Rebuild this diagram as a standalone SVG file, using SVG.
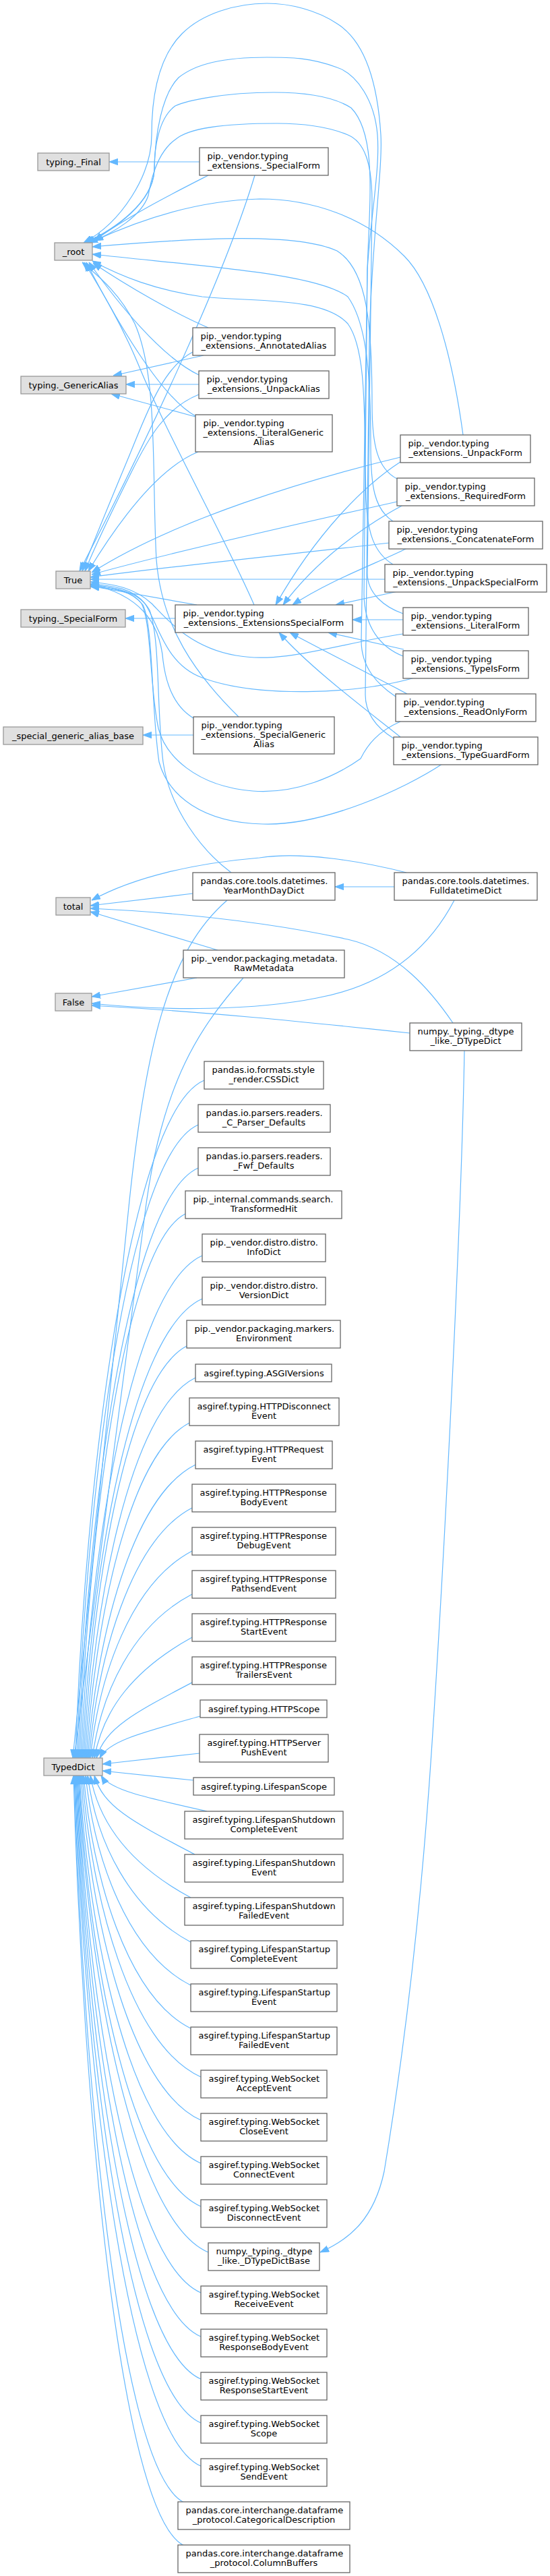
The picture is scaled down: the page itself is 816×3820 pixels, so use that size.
<svg xmlns="http://www.w3.org/2000/svg" width="816" height="3820" viewBox="0 0 816 3820">
<defs>
<marker id="a" viewBox="0 0 13 10" refX="13" refY="5" markerWidth="13" markerHeight="10" orient="auto" markerUnits="userSpaceOnUse"><path d="M0,0.3 L13,5 L0,9.7 z" fill="#63b8ff" stroke="#63b8ff" stroke-width="1"/></marker>
</defs>
<style>
.g rect{fill:#e0e0e0;stroke:#999999;stroke-width:1.3}
.w rect{fill:#ffffff;stroke:#666666;stroke-width:1.3}
text{font-family:"DejaVu Sans","Liberation Sans",sans-serif;font-size:13px;fill:#000000}
.m{text-anchor:middle}
#edges path{fill:none;stroke:#63b8ff;stroke-width:1.2;marker-end:url(#a)}
</style>
<rect width="816" height="3820" fill="#ffffff"/>
<g id="edges">
<path d="M296,240 L162,240"/>
<path d="M309,260 C260,285 190,320 140,357"/>
<path d="M309,486 C260,465 190,425 138,390"/>
<path d="M295,556 C240,530 175,450 132,389"/>
<path d="M290,617 C240,590 175,480 128,389"/>
<path d="M377,897 C335,800 250,650 205,540 C180,480 150,430 125,389"/>
<path d="M354,1063 C290,1000 240,930 232,830 C225,700 235,560 200,480 C175,430 140,405 122,389"/>
<path d="M687,645 C670,520 640,420 600,380 C540,320 460,295 385,295 C300,297 220,320 140,357"/>
<path d="M589,710 C560,695 552,660 552,600 C552,480 545,400 500,372 C440,345 300,352 137,366"/>
<path d="M583,773 C555,755 550,720 550,660 C550,560 545,480 516,440 C470,405 300,395 137,377"/>
<path d="M583,837 C555,820 545,790 543,740 C540,620 545,520 516,480 C480,440 380,448 300,440 C230,430 180,410 137,387"/>
<path d="M598,910 C570,900 545,880 545,850 L552,300 C552,240 540,210 516,200 C480,185 440,183 411,183 C330,183 280,190 260,207 C235,225 225,260 220,290 C210,320 170,345 132,360"/>
<path d="M598,973 C565,960 540,930 540,880 L545,400 C548,300 560,200 521,160 C490,140 440,137 406,137 C330,137 275,150 260,157 C235,175 229,220 229,250 C229,300 170,340 128,360"/>
<path d="M587,1033 C560,1015 536,990 536,950 L545,400 C550,320 564,250 560,200 C556,150 530,110 500,100 C460,85 430,85 396,85 C330,85 290,95 265,115 C240,140 230,200 229,250 C228,300 170,340 126,360"/>
<path d="M584,1095 C560,1080 542,1060 542,1030 L548,500 C552,350 568,250 565,200 C560,120 540,60 500,35 C470,15 430,5 396,5 C350,5 300,20 270,50 C240,80 225,130 225,200 C225,260 180,330 124,360"/>
<path d="M302,527 L168,557"/>
<path d="M295,570 L187,570"/>
<path d="M290,618 L165,584"/>
<path d="M378,260 C330,420 200,690 118,847"/>
<path d="M286,522 C240,545 215,620 190,680 C165,740 140,800 122,847"/>
<path d="M295,585 C245,605 220,650 195,700 C170,750 145,800 126,847"/>
<path d="M294,670 C245,690 190,750 131,847"/>
<path d="M292,897 L134,869"/>
<path d="M594,678 C460,710 260,770 136,849"/>
<path d="M589,744 C450,775 250,820 136,852"/>
<path d="M578,805 C450,820 250,840 134,856"/>
<path d="M571,859 L134,859"/>
<path d="M598,940 C500,955 420,985 350,972 C280,960 245,915 225,895 C200,872 170,866 134,863"/>
<path d="M615,1005 C530,1030 380,1035 300,1005 C245,985 235,925 215,895 C198,874 170,868 134,866"/>
<path d="M594,1070 C560,1085 545,1105 535,1125 C500,1150 440,1178 375,1173 C290,1166 245,1120 235,1080 C222,1020 225,925 210,895 C195,876 170,871 134,868"/>
<path d="M656,1133 C600,1170 480,1225 390,1222 C300,1220 250,1180 236,1130 C224,1050 228,930 212,897 C197,877 170,872 134,870"/>
<path d="M287,1065 C262,1050 247,1020 242,980 C237,920 205,882 134,866"/>
<path d="M343,1294 C300,1262 252,1200 242,1130 C232,1050 238,950 222,905 C208,878 170,870 134,867"/>
<path d="M594,685 C540,720 470,790 409,897"/>
<path d="M598,749 C540,780 470,830 420,897"/>
<path d="M604,813 C560,835 490,860 434,897"/>
<path d="M590,877 L498,897"/>
<path d="M598,919 L523,919"/>
<path d="M599,963 L487,938"/>
<path d="M604,1029 C550,1000 480,965 430,938"/>
<path d="M594,1093 C540,1050 460,990 414,938"/>
<path d="M260,917 L186,917"/>
<path d="M287,1090 L212,1090"/>
<path d="M286,1325 L134,1343"/>
<path d="M603,1294 C540,1278 450,1262 385,1272 C290,1280 200,1300 136,1335"/>
<path d="M323,1409 L134,1352"/>
<path d="M672,1517 C640,1470 590,1410 516,1393 C420,1372 300,1355 134,1347"/>
<path d="M585,1315 L497,1315"/>
<path d="M292,1450 L136,1478"/>
<path d="M674,1335 C640,1400 580,1460 470,1480 C380,1498 250,1500 136,1488"/>
<path d="M608,1532 C450,1515 300,1500 136,1491"/>
<path d="M689,1557 C685,1800 660,2300 640,2600 C620,2900 590,3100 570,3220 C555,3290 520,3320 475,3340"/>
<path d="M337,1335 C250,1410 215,1550 190,1800 C165,2050 128,2400 108,2607"/>
<path d="M361,1450 C300,1520 240,1600 215,1800 C190,2000 135,2400 110,2607"/>
<path d="M303,1602 C190,1650 125,2205 112,2607"/>
<path d="M294,1668 C186,1716 127,2231 114,2607"/>
<path d="M294,1732 C187,1780 129,2257 116,2607"/>
<path d="M275,1800 C181,1848 131,2284 118,2607"/>
<path d="M300,1862 C192,1910 133,2309 120,2607"/>
<path d="M300,1926 C193,1974 135,2335 122,2607"/>
<path d="M277,1996 C185,2044 137,2363 124,2607"/>
<path d="M290,2043 C192,2091 139,2381 126,2607"/>
<path d="M281,2110 C189,2158 141,2408 128,2607"/>
<path d="M290,2172 C194,2220 143,2433 130,2607"/>
<path d="M285,2236 C193,2284 145,2459 132,2607"/>
<path d="M285,2300 C194,2348 147,2484 134,2607"/>
<path d="M285,2364 C196,2411 150,2510 137,2607"/>
<path d="M285,2428 C198,2476 153,2535 140,2607"/>
<path d="M287,2494 C201,2539 156,2562 143,2607"/>
<path d="M297,2545 C208,2570 161,2582 148,2607"/>
<path d="M296,2600 L152,2616"/>
<path d="M287,2640 L152,2626"/>
<path d="M307,2686 C213,2665 163,2654 150,2633"/>
<path d="M289,2750 C200,2703 153,2680 140,2633"/>
<path d="M283,2814 C194,2766 147,2705 134,2633"/>
<path d="M283,2880 C193,2832 143,2732 130,2633"/>
<path d="M283,2944 C189,2896 140,2757 127,2633"/>
<path d="M283,3008 C188,2960 137,2783 124,2633"/>
<path d="M298,3080 C192,3032 135,2812 122,2633"/>
<path d="M298,3144 C191,3096 133,2837 120,2633"/>
<path d="M298,3208 C190,3160 131,2863 118,2633"/>
<path d="M298,3272 C189,3224 130,2889 117,2633"/>
<path d="M309,3340 C196,3292 129,2916 116,2633"/>
<path d="M298,3400 C188,3352 128,2940 115,2633"/>
<path d="M298,3465 C188,3417 127,2966 114,2633"/>
<path d="M298,3528 C187,3480 126,2991 113,2633"/>
<path d="M298,3593 C186,3545 125,3017 112,2633"/>
<path d="M298,3657 C186,3609 124,3043 111,2633"/>
<path d="M273,3711 C175,3663 123,3064 110,2633"/>
<path d="M273,3775 C175,3727 122,3090 109,2633"/>
</g>
<g id="n_final" class="g"><rect x="56" y="227" width="106" height="26"/><text class="m" x="109" y="244.5">typing._Final</text></g>
<g id="n_root" class="g"><rect x="81" y="360" width="56" height="26"/><text class="m" x="109" y="377.5">_root</text></g>
<g id="n_galias" class="g"><rect x="31" y="558" width="156" height="26"/><text class="m" x="109" y="575.5">typing._GenericAlias</text></g>
<g id="n_true" class="g"><rect x="83" y="847" width="51" height="26"/><text class="m" x="108.5" y="864.5">True</text></g>
<g id="n_sform" class="g"><rect x="31" y="904" width="155" height="26"/><text class="m" x="108.5" y="921.5">typing._SpecialForm</text></g>
<g id="n_sgab" class="g"><rect x="5" y="1078" width="207" height="26"/><text class="m" x="108.5" y="1095.5">_special_generic_alias_base</text></g>
<g id="n_total" class="g"><rect x="83" y="1331" width="51" height="26"/><text class="m" x="108.5" y="1348.5">total</text></g>
<g id="n_false" class="g"><rect x="82" y="1473" width="54" height="26"/><text class="m" x="109" y="1490.5">False</text></g>
<g id="n_typeddict" class="g"><rect x="65" y="2607" width="87" height="26"/><text class="m" x="108.5" y="2624.5">TypedDict</text></g>
<g id="n_spform" class="w"><rect x="296" y="219" width="191" height="41"/><text x="307.5" y="236">pip._vendor.typing</text><text class="m" x="391.5" y="250">_extensions._SpecialForm</text></g>
<g id="n_annot" class="w"><rect x="286" y="486" width="211" height="41"/><text x="297.5" y="503">pip._vendor.typing</text><text class="m" x="391.5" y="517">_extensions._AnnotatedAlias</text></g>
<g id="n_unpacka" class="w"><rect x="295" y="550" width="193" height="41"/><text x="306.5" y="567">pip._vendor.typing</text><text class="m" x="391.5" y="581">_extensions._UnpackAlias</text></g>
<g id="n_litga" class="w"><rect x="290" y="615" width="203" height="55"/><text x="301.5" y="632">pip._vendor.typing</text><text x="301.5" y="646">_extensions._LiteralGeneric</text><text class="m" x="391.5" y="660">Alias</text></g>
<g id="n_esf" class="w"><rect x="260" y="897" width="263" height="41"/><text x="271.5" y="914">pip._vendor.typing</text><text class="m" x="391.5" y="928">_extensions._ExtensionsSpecialForm</text></g>
<g id="n_sga" class="w"><rect x="287" y="1063" width="209" height="55"/><text x="298.5" y="1080">pip._vendor.typing</text><text x="298.5" y="1094">_extensions._SpecialGeneric</text><text class="m" x="391.5" y="1108">Alias</text></g>
<g id="n_ymdd" class="w"><rect x="286" y="1294" width="211" height="41"/><text x="297.5" y="1311">pandas.core.tools.datetimes.</text><text class="m" x="391.5" y="1325">YearMonthDayDict</text></g>
<g id="n_raw" class="w"><rect x="272" y="1409" width="239" height="41"/><text x="283.5" y="1426">pip._vendor.packaging.metadata.</text><text class="m" x="391.5" y="1440">RawMetadata</text></g>
<g id="n_css" class="w"><rect x="303" y="1574" width="177" height="41"/><text x="314.5" y="1591">pandas.io.formats.style</text><text class="m" x="391.5" y="1605">_render.CSSDict</text></g>
<g id="n_cparser" class="w"><rect x="294" y="1638" width="196" height="41"/><text x="305.5" y="1655">pandas.io.parsers.readers.</text><text class="m" x="391.5" y="1669">_C_Parser_Defaults</text></g>
<g id="n_fwf" class="w"><rect x="294" y="1702" width="196" height="41"/><text x="305.5" y="1719">pandas.io.parsers.readers.</text><text class="m" x="391.5" y="1733">_Fwf_Defaults</text></g>
<g id="n_thit" class="w"><rect x="275" y="1766" width="232" height="41"/><text x="286.5" y="1783">pip._internal.commands.search.</text><text class="m" x="391.5" y="1797">TransformedHit</text></g>
<g id="n_info" class="w"><rect x="300" y="1830" width="183" height="41"/><text x="311.5" y="1847">pip._vendor.distro.distro.</text><text class="m" x="391.5" y="1861">InfoDict</text></g>
<g id="n_version" class="w"><rect x="300" y="1894" width="183" height="41"/><text x="311.5" y="1911">pip._vendor.distro.distro.</text><text class="m" x="391.5" y="1925">VersionDict</text></g>
<g id="n_env" class="w"><rect x="277" y="1958" width="228" height="41"/><text x="288.5" y="1975">pip._vendor.packaging.markers.</text><text class="m" x="391.5" y="1989">Environment</text></g>
<g id="n_asgiv" class="w"><rect x="290" y="2023" width="202" height="26"/><text class="m" x="391.5" y="2040.5">asgiref.typing.ASGIVersions</text></g>
<g id="n_httpdisc" class="w"><rect x="281" y="2073" width="222" height="41"/><text x="292.5" y="2090">asgiref.typing.HTTPDisconnect</text><text class="m" x="391.5" y="2104">Event</text></g>
<g id="n_httpreq" class="w"><rect x="290" y="2137" width="203" height="41"/><text x="301.5" y="2154">asgiref.typing.HTTPRequest</text><text class="m" x="391.5" y="2168">Event</text></g>
<g id="n_hrbody" class="w"><rect x="285" y="2201" width="213" height="41"/><text x="296.5" y="2218">asgiref.typing.HTTPResponse</text><text class="m" x="391.5" y="2232">BodyEvent</text></g>
<g id="n_hrdebug" class="w"><rect x="285" y="2265" width="213" height="41"/><text x="296.5" y="2282">asgiref.typing.HTTPResponse</text><text class="m" x="391.5" y="2296">DebugEvent</text></g>
<g id="n_hrpath" class="w"><rect x="285" y="2329" width="213" height="41"/><text x="296.5" y="2346">asgiref.typing.HTTPResponse</text><text class="m" x="391.5" y="2360">PathsendEvent</text></g>
<g id="n_hrstart" class="w"><rect x="285" y="2393" width="213" height="41"/><text x="296.5" y="2410">asgiref.typing.HTTPResponse</text><text class="m" x="391.5" y="2424">StartEvent</text></g>
<g id="n_hrtrail" class="w"><rect x="285" y="2457" width="213" height="41"/><text x="296.5" y="2474">asgiref.typing.HTTPResponse</text><text class="m" x="391.5" y="2488">TrailersEvent</text></g>
<g id="n_httpscope" class="w"><rect x="297" y="2521" width="188" height="26"/><text class="m" x="391.5" y="2538.5">asgiref.typing.HTTPScope</text></g>
<g id="n_hspush" class="w"><rect x="296" y="2572" width="191" height="41"/><text x="307.5" y="2589">asgiref.typing.HTTPServer</text><text class="m" x="391.5" y="2603">PushEvent</text></g>
<g id="n_lscope" class="w"><rect x="287" y="2636" width="209" height="26"/><text class="m" x="391.5" y="2653.5">asgiref.typing.LifespanScope</text></g>
<g id="n_lsdcomp" class="w"><rect x="274" y="2686" width="235" height="41"/><text x="285.5" y="2703">asgiref.typing.LifespanShutdown</text><text class="m" x="391.5" y="2717">CompleteEvent</text></g>
<g id="n_lsdevent" class="w"><rect x="274" y="2750" width="235" height="41"/><text x="285.5" y="2767">asgiref.typing.LifespanShutdown</text><text class="m" x="391.5" y="2781">Event</text></g>
<g id="n_lsdfail" class="w"><rect x="274" y="2814" width="235" height="41"/><text x="285.5" y="2831">asgiref.typing.LifespanShutdown</text><text class="m" x="391.5" y="2845">FailedEvent</text></g>
<g id="n_lstcomp" class="w"><rect x="283" y="2878" width="217" height="41"/><text x="294.5" y="2895">asgiref.typing.LifespanStartup</text><text class="m" x="391.5" y="2909">CompleteEvent</text></g>
<g id="n_lstevent" class="w"><rect x="283" y="2942" width="217" height="41"/><text x="294.5" y="2959">asgiref.typing.LifespanStartup</text><text class="m" x="391.5" y="2973">Event</text></g>
<g id="n_lstfail" class="w"><rect x="283" y="3006" width="217" height="41"/><text x="294.5" y="3023">asgiref.typing.LifespanStartup</text><text class="m" x="391.5" y="3037">FailedEvent</text></g>
<g id="n_wsaccept" class="w"><rect x="298" y="3070" width="187" height="41"/><text x="309.5" y="3087">asgiref.typing.WebSocket</text><text class="m" x="391.5" y="3101">AcceptEvent</text></g>
<g id="n_wsclose" class="w"><rect x="298" y="3134" width="187" height="41"/><text x="309.5" y="3151">asgiref.typing.WebSocket</text><text class="m" x="391.5" y="3165">CloseEvent</text></g>
<g id="n_wsconn" class="w"><rect x="298" y="3198" width="187" height="41"/><text x="309.5" y="3215">asgiref.typing.WebSocket</text><text class="m" x="391.5" y="3229">ConnectEvent</text></g>
<g id="n_wsdisc" class="w"><rect x="298" y="3262" width="187" height="41"/><text x="309.5" y="3279">asgiref.typing.WebSocket</text><text class="m" x="391.5" y="3293">DisconnectEvent</text></g>
<g id="n_dtbase" class="w"><rect x="309" y="3326" width="165" height="41"/><text x="320.5" y="3343">numpy._typing._dtype</text><text class="m" x="391.5" y="3357">_like._DTypeDictBase</text></g>
<g id="n_wsrecv" class="w"><rect x="298" y="3390" width="187" height="41"/><text x="309.5" y="3407">asgiref.typing.WebSocket</text><text class="m" x="391.5" y="3421">ReceiveEvent</text></g>
<g id="n_wsrbody" class="w"><rect x="298" y="3454" width="187" height="41"/><text x="309.5" y="3471">asgiref.typing.WebSocket</text><text class="m" x="391.5" y="3485">ResponseBodyEvent</text></g>
<g id="n_wsrstart" class="w"><rect x="298" y="3518" width="187" height="41"/><text x="309.5" y="3535">asgiref.typing.WebSocket</text><text class="m" x="391.5" y="3549">ResponseStartEvent</text></g>
<g id="n_wsscope" class="w"><rect x="298" y="3582" width="187" height="41"/><text x="309.5" y="3599">asgiref.typing.WebSocket</text><text class="m" x="391.5" y="3613">Scope</text></g>
<g id="n_wssend" class="w"><rect x="298" y="3646" width="187" height="41"/><text x="309.5" y="3663">asgiref.typing.WebSocket</text><text class="m" x="391.5" y="3677">SendEvent</text></g>
<g id="n_catdesc" class="w"><rect x="264" y="3710" width="255" height="41"/><text x="275.5" y="3727">pandas.core.interchange.dataframe</text><text class="m" x="391.5" y="3741">_protocol.CategoricalDescription</text></g>
<g id="n_colbuf" class="w"><rect x="264" y="3774" width="255" height="41"/><text x="275.5" y="3791">pandas.core.interchange.dataframe</text><text class="m" x="391.5" y="3805">_protocol.ColumnBuffers</text></g>
<g id="n_unpackf" class="w"><rect x="594" y="645" width="193" height="41"/><text x="605.5" y="662">pip._vendor.typing</text><text class="m" x="690.5" y="676">_extensions._UnpackForm</text></g>
<g id="n_reqf" class="w"><rect x="589" y="709" width="204" height="41"/><text x="600.5" y="726">pip._vendor.typing</text><text class="m" x="691" y="740">_extensions._RequiredForm</text></g>
<g id="n_concf" class="w"><rect x="577" y="773" width="228" height="41"/><text x="588.5" y="790">pip._vendor.typing</text><text class="m" x="691" y="804">_extensions._ConcatenateForm</text></g>
<g id="n_unpacksf" class="w"><rect x="571" y="837" width="240" height="41"/><text x="582.5" y="854">pip._vendor.typing</text><text class="m" x="691" y="868">_extensions._UnpackSpecialForm</text></g>
<g id="n_litf" class="w"><rect x="598" y="901" width="186" height="41"/><text x="609.5" y="918">pip._vendor.typing</text><text class="m" x="691" y="932">_extensions._LiteralForm</text></g>
<g id="n_typeisf" class="w"><rect x="598" y="965" width="186" height="41"/><text x="609.5" y="982">pip._vendor.typing</text><text class="m" x="691" y="996">_extensions._TypeIsForm</text></g>
<g id="n_readonlyf" class="w"><rect x="587" y="1029" width="208" height="41"/><text x="598.5" y="1046">pip._vendor.typing</text><text class="m" x="691" y="1060">_extensions._ReadOnlyForm</text></g>
<g id="n_typeguardf" class="w"><rect x="584" y="1093" width="214" height="41"/><text x="595.5" y="1110">pip._vendor.typing</text><text class="m" x="691" y="1124">_extensions._TypeGuardForm</text></g>
<g id="n_fdd" class="w"><rect x="585" y="1294" width="212" height="41"/><text x="596.5" y="1311">pandas.core.tools.datetimes.</text><text class="m" x="691" y="1325">FulldatetimeDict</text></g>
<g id="n_dtd" class="w"><rect x="608" y="1517" width="166" height="41"/><text x="619.5" y="1534">numpy._typing._dtype</text><text class="m" x="691" y="1548">_like._DTypeDict</text></g>
</svg>
